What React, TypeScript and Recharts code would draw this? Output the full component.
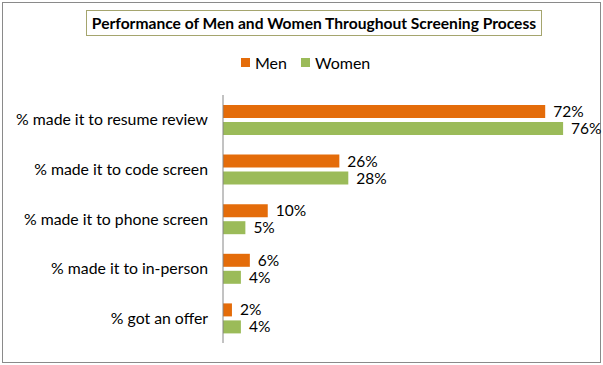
import React from 'react';
import { BarChart, Bar, XAxis, YAxis, LabelList } from 'recharts';

const categories = [
  '% made it to resume review',
  '% made it to code screen',
  '% made it to phone screen',
  '% made it to in-person',
  '% got an offer',
];
const men = [72, 26, 10, 6, 2];
const women = [76, 28, 5, 4, 4];

const data = categories.map((name, i) => ({ name, men: men[i], women: women[i] }));

const MEN = '#E46C0A';
const WOMEN = '#9BBB59';
const FONT = 'Lato, "Liberation Sans", sans-serif';

const pct = (v: any) => `${v}%`;

export default function App() {
  return (
    <div style={{ position: 'absolute', left: 0, top: 0, width: 603, height: 365, background: '#fff', fontFamily: FONT }}>
      <div style={{ position: 'absolute', left: 2, top: 2, width: 597, height: 359, border: '1px solid #8a8a8a' }} />
      <div
        style={{
          position: 'absolute', left: 86, top: 10, width: 454, height: 24,
          border: '1px solid #a5a56e', display: 'flex', alignItems: 'center', justifyContent: 'center',
          fontWeight: 700, fontSize: 15.6, color: '#000', whiteSpace: 'nowrap',
        }}
      >
        Performance of Men and Women Throughout Screening Process
      </div>
      <div style={{ position: 'absolute', left: 241, top: 52, height: 20, display: 'flex', alignItems: 'center', fontSize: 16, color: '#000' }}>
        <span style={{ width: 9, height: 9, background: MEN, marginRight: 5 }} />
        <span style={{ marginRight: 14 }}>Men</span>
        <span style={{ width: 9, height: 9, background: WOMEN, marginRight: 5 }} />
        <span>Women</span>
      </div>
      <BarChart
        width={603}
        height={365}
        data={data}
        layout="vertical"
        margin={{ top: 95, right: 22, bottom: 22, left: 0 }}
        barSize={13}
        barGap={4}
        style={{ position: 'absolute', left: 0, top: 0 }}
      >
        <XAxis type="number" domain={[0, 80]} hide />
        <YAxis
          type="category"
          dataKey="name"
          width={223}
          axisLine={{ stroke: '#868686' }}
          tickLine={false}
          tickMargin={9}
          tick={{ fill: '#000', fontSize: 15.8, fontFamily: FONT }}
        />
        <Bar dataKey="men" fill={MEN} isAnimationActive={false}>
          <LabelList dataKey="men" position="right" offset={8} formatter={pct} fill="#000" fontSize={15.5} fontFamily={FONT} />
        </Bar>
        <Bar dataKey="women" fill={WOMEN} isAnimationActive={false}>
          <LabelList dataKey="women" position="right" offset={8} formatter={pct} fill="#000" fontSize={15.5} fontFamily={FONT} />
        </Bar>
      </BarChart>
    </div>
  );
}
